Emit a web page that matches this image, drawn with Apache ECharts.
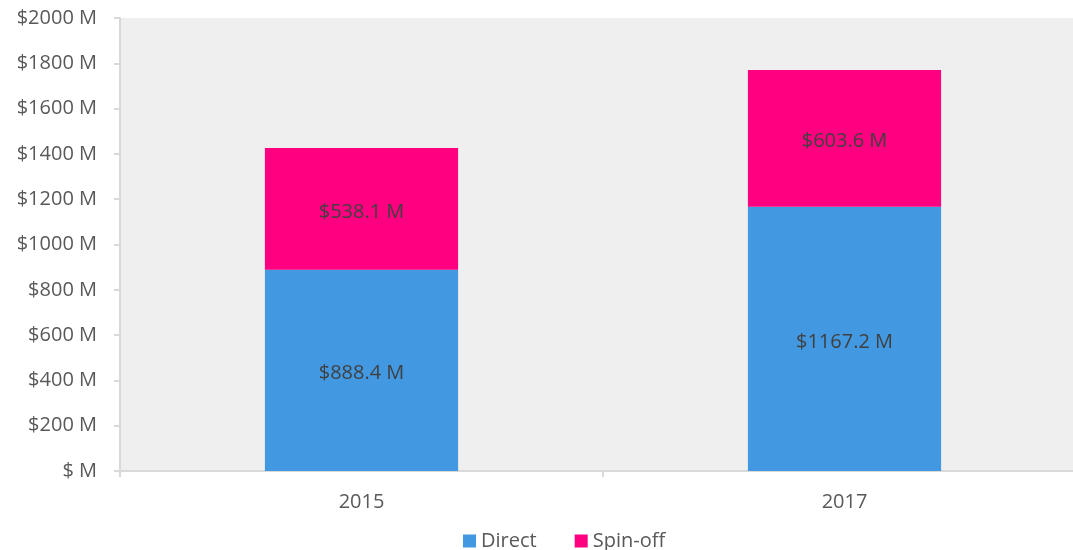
<!DOCTYPE html>
<html>
<head>
<meta charset="utf-8">
<script src="https://cdn.jsdelivr.net/npm/echarts@6/dist/echarts.min.js"></script>
<style>
  html, body { margin: 0; padding: 0; background: #fff; overflow: hidden; }
  /* plot area runs past the right edge in the original, so the canvas is a bit wider than the window */
  #chart { width: 1086px; height: 550px; }
</style>
</head>
<body>
<div id="chart"></div>
<script>
// data
const years = ["2015", "2017"];
const direct = [888.4, 1167.2];
const spinOff = [538.1, 603.6];

const fontFamily = "'Open Sans', 'Noto Sans', sans-serif";
const chart = echarts.init(document.getElementById("chart"));

const labelStyle = {
  show: true,
  position: "inside",
  offset: [0, 3],
  color: "#404040",
  fontSize: 20,
  fontFamily: fontFamily,
  formatter: (p) => "$" + p.value.toFixed(1) + " M",
};

chart.setOption({
  animation: false,
  grid: {
    left: 120,
    right: 0,
    top: 18,
    bottom: 79,
    show: true,
    backgroundColor: "#efefef",
    borderWidth: 0,
  },
  legend: {
    top: 526,
    left: 458,
    itemWidth: 13,
    itemHeight: 13,
    itemGap: 38,
    icon: "rect",
    textStyle: { color: "#595959", fontSize: 20, fontFamily: fontFamily },
    data: ["Direct", "Spin-off"],
  },
  xAxis: {
    type: "category",
    data: years,
    axisLine: { lineStyle: { color: "#d9d9d9", width: 2 } },
    axisTick: { show: true, length: 6, lineStyle: { color: "#d9d9d9", width: 2 } },
    axisLabel: { color: "#595959", fontSize: 20, fontFamily: fontFamily, margin: 21 },
  },
  yAxis: {
    type: "value",
    min: 0,
    max: 2000,
    interval: 200,
    axisLine: { show: true, lineStyle: { color: "#d9d9d9", width: 2 } },
    axisTick: { show: true, length: 6, lineStyle: { color: "#d9d9d9", width: 2 } },
    splitLine: { show: false },
    axisLabel: {
      color: "#595959",
      fontSize: 20,
      fontFamily: fontFamily,
      margin: 23,
      formatter: (v) => (v === 0 ? "$ M" : "$" + v + " M"),
    },
  },
  series: [
    {
      name: "Direct",
      type: "bar",
      stack: "total",
      barWidth: "40%",
      data: direct,
      itemStyle: { color: "#4299e1" },
      label: labelStyle,
    },
    {
      name: "Spin-off",
      type: "bar",
      stack: "total",
      barWidth: "40%",
      data: spinOff,
      itemStyle: { color: "#ff0080" },
      label: labelStyle,
    },
  ],
});
</script>
</body>
</html>
